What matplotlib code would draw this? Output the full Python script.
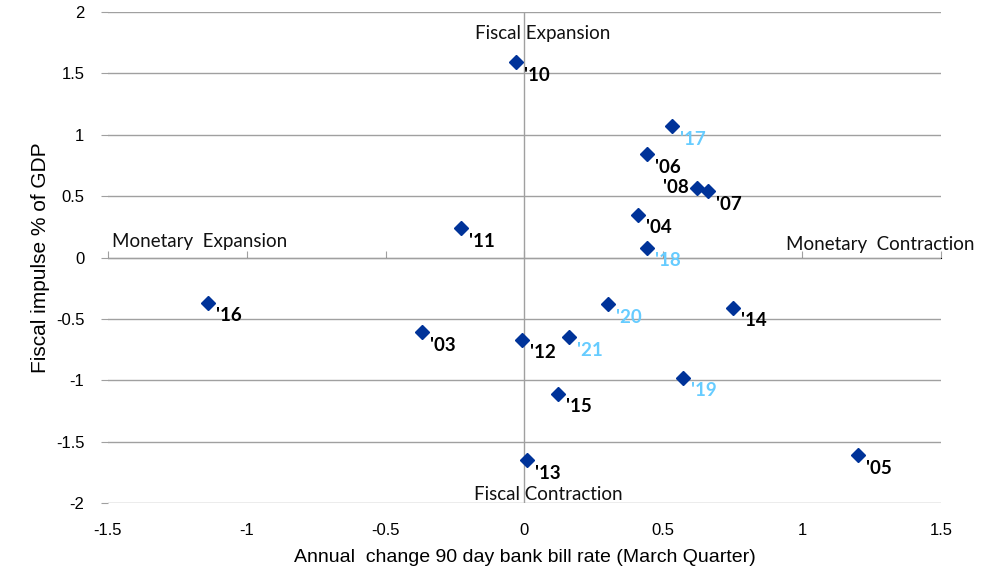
"""Fiscal impulse vs change in 90 day bank bill rate, one diamond per year."""

import matplotlib

matplotlib.use("Agg")
import matplotlib.pyplot as plt  # noqa: E402

# annual change in 90 day bank bill rate (March quarter), fiscal impulse % GDP
years = ["'03", "'04", "'05", "'06", "'07", "'08", "'10", "'11", "'12",
         "'13", "'14", "'15", "'16", "'17", "'18", "'19", "'20", "'21"]
rate_change = [-0.37, 0.41, 1.20, 0.44, 0.66, 0.62, -0.03, -0.23, -0.01,
               0.01, 0.75, 0.12, -1.14, 0.53, 0.44, 0.57, 0.30, 0.16]
fiscal_impulse = [-0.61, 0.35, -1.61, 0.84, 0.54, 0.57, 1.59, 0.24, -0.67,
                  -1.65, -0.41, -1.11, -0.37, 1.07, 0.08, -0.98, -0.38, -0.65]
recent = {"'17", "'18", "'19", "'20", "'21"}

x_ticks = [-1.5, -1, -0.5, 0, 0.5, 1, 1.5]
y_ticks = [-2, -1.5, -1, -0.5, 0, 0.5, 1, 1.5, 2]

MARKER = "#003399"
RECENT = "#66CCFF"
GRID = "#a0a0a0"
LABEL_FONT = ["Lato", "DejaVu Sans"]
AXIS_FONT = ["Liberation Sans", "DejaVu Sans"]

fig = plt.figure(figsize=(9.99, 5.66), dpi=100)
ax = fig.add_axes([0.108, 0.111, 0.834, 0.868])

ax.set_xlim(-1.5, 1.5)
ax.set_ylim(-2, 2)
ax.set_yticks(y_ticks)
ax.set_yticklabels([f"{v:g}" for v in y_ticks], family=AXIS_FONT, fontsize=12)
ax.set_xticks(x_ticks)
ax.set_xticklabels([f"{v:g}" for v in x_ticks], family=AXIS_FONT, fontsize=12)
ax.tick_params(axis="x", length=0, pad=14)
ax.tick_params(axis="y", length=5, color=GRID, pad=12)
ax.grid(axis="y", color=GRID, linewidth=1)
for side in ("top", "right", "bottom", "left"):
    ax.spines[side].set_visible(False)

# x axis line crosses at y = 0 with small ticks
sec = ax.secondary_xaxis(0.5)
sec.set_xticks(x_ticks)
sec.set_xticklabels([])
sec.tick_params(length=5, color=GRID)
sec.spines["bottom"].set_color(GRID)
ax.axvline(0, color=GRID, linewidth=1)

ax.plot(rate_change, fiscal_impulse, linestyle="none", marker="D",
        markersize=7.5, color=MARKER, zorder=3)

for lab, x, y in zip(years, rate_change, fiscal_impulse):
    if lab == "'08":
        off, ha = (-8, 0), "right"
    else:
        off, ha = (8, -13), "left"
    ax.annotate(lab, (x, y), xytext=off, textcoords="offset pixels",
                ha=ha, va="center", fontsize=13.5, fontweight="bold",
                family=LABEL_FONT,
                color=RECENT if lab in recent else "black")

quad = dict(fontsize=13.5, family=LABEL_FONT, color="#111111", clip_on=False)
ax.text(0.065, 1.82, "Fiscal Expansion", ha="center", va="center", **quad)
ax.text(0.085, -1.93, "Fiscal Contraction", ha="center", va="center", **quad)
ax.text(-1.485, 0.13, "Monetary  Expansion", ha="left", va="center", **quad)
ax.text(0.94, 0.11, "Monetary  Contraction", ha="left", va="center", **quad)

ax.set_xlabel("Annual  change 90 day bank bill rate (March Quarter)",
              family=AXIS_FONT, fontsize=14, labelpad=8)
ax.set_ylabel("Fiscal impulse % of GDP", family=AXIS_FONT, fontsize=15,
              labelpad=4)

fig.savefig("out.png", dpi=100)
plt.close(fig)
